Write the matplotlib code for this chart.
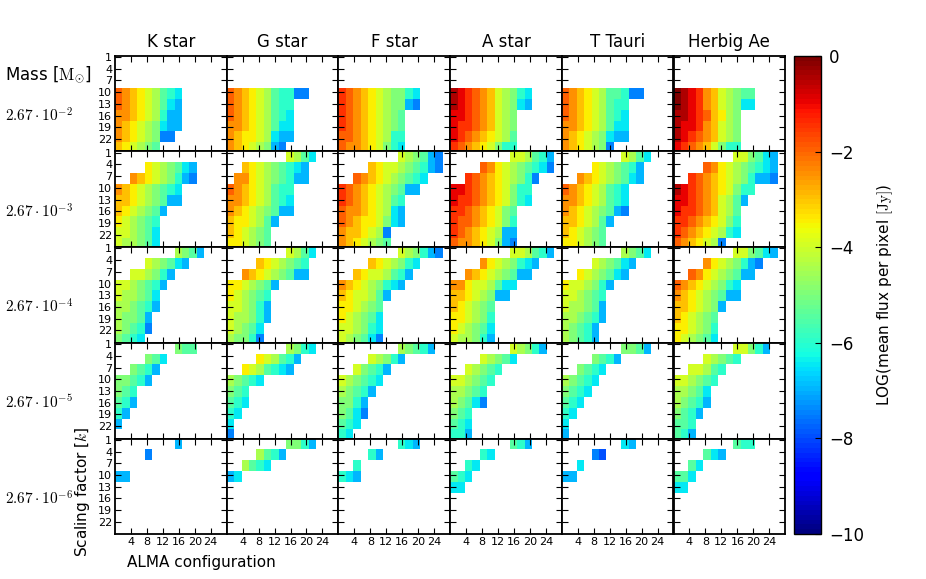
import numpy as np
import matplotlib
matplotlib.use("Agg")
import matplotlib.pyplot as plt

plt.rcParams["mathtext.fontset"] = "cm"

# ---------------- data ----------------
stars = ["K star", "G star", "F star", "A star", "T Tauri", "Herbig Ae"]
mass_labels = [r"$2.67\cdot10^{-2}$", r"$2.67\cdot10^{-3}$", r"$2.67\cdot10^{-4}$",
               r"$2.67\cdot10^{-5}$", r"$2.67\cdot10^{-6}$"]
k_ticks = [1, 4, 7, 10, 13, 16, 19, 22]
config_ticks = [4, 8, 12, 16, 20, 24]
cbar_ticks = [0, -2, -4, -6, -8, -10]

# cell codes: '.' = no data, otherwise value = -0.5 * index in CODES
CODES = "0123456789abcdefgh"

# mass 2.67e-2
K_m2 = ["", "", "", "456789bcd", "456789bde", "556789cee", "56789adee", "56789aff", "6789ab"]
G_m2 = ["", "", "", "456789bccff", "456789bcc", "456789bcd", "556789bdd", "567789dee", "56789aef"]
F_m2 = ["", "", "", "3456789aacd", "3456789aaef", "3456789ab", "3456789ab", "4456789cc", "455678acd"]
A_m2 = ["", "", "", "12345689acd", "12345689ade", "22345689a", "23345689a", "23456789b", "345678acc"]
T_m2 = ["", "", "", "456789bbcff", "456789bcc", "456789bcd", "556789bdd", "56789adee", "56789af"]
H_m2 = ["", "", "", "01235689abb", "01235689add", "11234679a", "12235689a", "12345689a", "234568acc"]
# mass 2.67e-3
K_m3 = ["", "....789abde", "..56789acef", "56789abcd", "66789abee", "6789abe", "789abc", "889abd", "899abd"]
G_m3 = ["........89bd", "..6789abcde", ".55789abcee", "456789bcc", "556789bcd", "56789abee", "67789be", "6789ab", "7789ab"]
F_m3 = ["........89abef", "....67889abcef", "..456789abcd", "3456789abee", "3456789bc", "4556789de", "456778ade", "566789f", "56789ab"]
A_m3 = ["........889bce", "....45789abcdf", "..3456789acf", "22345678acc", "23345678acd", "3345678ab", "3445678ac", "3456789ee", "455678aef"]
T_m3 = ["........89bd", "....789abce", "..56789abde", "456789bcd", "556789bcd", "56789abef", "66789be", "6789ab", "7789ab"]
H_m3 = ["........88abde", "....45789abcde", "..3456789aceef", "12345678acc", "22345689be", "23345689b", "3345678ac", "3456789cd", "456789f"]
# mass 2.67e-4
K_m4 = ["........9abe", "....89abde", "..889ace", "889abce", "899abd", "99abce", "9aabe", "9abcf", "abcd"]
G_m4 = ["........89bd", "....6789abc", "..56789abee", "7789abe", "789abc", "889ace", "899ace", "89abd", "9aacf"]
F_m4 = ["........89acef", "....6789acd", "..67889bce", "56789acde", "67889be", "7789ab", "789abd", "889acd", "89abdf"]
A_m4 = ["........889bce", "....5789acde", "..56789abee", "557889bdd", "66789aee", "6789ab", "7789ac", "789abd", "899ace"]
T_m4 = ["........9abd", "....89abde", "..789abde", "7889ace", "889abc", "899abe", "99abce", "9abce", "9abce"]
H_m4 = ["........88abde", "....5789acef", "..45789abee", "456789acd", "56789abee", "66789ae", "6789ab", "7789ac", "789abd"]
# mass 2.67e-5
K_m5 = ["........abb", "....abd", "..abce", "aabce", "abc", "bce", "ce", "e", ""]
G_m5 = ["........9acd", "....789bce", "..789bcde", "9abcd", "abc", "bcd", "cd", "d", "f"]
F_m5 = ["........9abce", "....89ace", "..8abce", "89abcd", "9abce", "aace", "abdf", "bcd", "cd"]
A_m5 = ["........89ace", "....89abd", "..89abc", "889abc", "99abc", "9abdf", "abc", "bcd", "cce"]
T_m5 = ["........aabe", "....abce", "..abcd", "9abcd", "abcd", "bcd", "cd", "d", "e"]
H_m5 = ["........88ace", "....89abc", "..889bc", "889abc", "99abd", "9abce", "abce", "bbc", "bce"]
# mass 2.67e-6
K_m6 = ["........e", "....f", "", "ee", "", "", "", "", ""]
G_m6 = ["........aace", "....9bce", "..9bcd", "ed", "", "", "", "", ""]
F_m6 = ["........cde", "....ce", "..c", "cde", "", "", "", "", ""]
A_m6 = ["........bce", "....cd", "..cd", "bcd", "dd", "", "", "", ""]
T_m6 = ["........de", "....fg", "..d", "ee", "", "", "", "", ""]
H_m6 = ["........bcc", "....bde", "..bd", "bbd", "dd", "", "", "", ""]

panel_rows = [
    [K_m2, G_m2, F_m2, A_m2, T_m2, H_m2],
    [K_m3, G_m3, F_m3, A_m3, T_m3, H_m3],
    [K_m4, G_m4, F_m4, A_m4, T_m4, H_m4],
    [K_m5, G_m5, F_m5, A_m5, T_m5, H_m5],
    [K_m6, G_m6, F_m6, A_m6, T_m6, H_m6],
]

NROW, NCOL = 9, 15


def decode(rows):
    arr = np.full((NROW, NCOL), np.nan)
    for i, row in enumerate(rows):
        for j, c in enumerate(row):
            if c != ".":
                arr[i, j] = -0.5 * CODES.index(c)
    return np.ma.masked_invalid(arr)


# ---------------- layout ----------------
W, H = 926, 579
fig = plt.figure(figsize=(W / 100, H / 100), dpi=100)

left0, top0 = 115.0, 55.7
pw, ph = 111.7, 95.7

x_edges = np.linspace(0, 28, NCOL + 1)
y_edges = 0.66 + 2.77 * np.arange(NROW + 1)

cmap = plt.get_cmap("jet", 100)
cmap.set_bad("white")

mesh = None
for r in range(5):
    for c in range(6):
        l = (left0 + c * pw) / W
        b = 1 - (top0 + (r + 1) * ph) / H
        ax = fig.add_axes([l, b, pw / W, ph / H])
        data = decode(panel_rows[r][c])
        mesh = ax.pcolormesh(x_edges, y_edges, data, cmap=cmap, vmin=-10, vmax=0)
        ax.set_xlim(0, 28)
        ax.set_ylim(25.15, 0.66)
        ax.set_xticks(config_ticks)
        ax.set_yticks(k_ticks)
        ax.tick_params(direction="in", top=True, right=True, length=4, width=0.8,
                       labelsize=8, pad=2)
        if c == 0:
            ax.set_yticklabels([str(v) for v in k_ticks])
        else:
            ax.set_yticklabels([])
        if r == 4:
            ax.set_xticklabels([str(v) for v in config_ticks])
        else:
            ax.set_xticklabels([])
        for s in ax.spines.values():
            s.set_linewidth(1.3)
        if r == 0:
            ax.set_title(stars[c], fontsize=12, pad=6)

# left labels
fig.text(5 / W, 1 - 75 / H, r"Mass [$\mathrm{M}_{\odot}$]", fontsize=12, ha="left", va="center")
for r in range(5):
    yc = top0 + (r + 0.5) * ph + 12
    fig.text(5 / W, 1 - yc / H, mass_labels[r], fontsize=11, ha="left", va="center")

fig.text(83 / W, 1 - 492 / H, r"Scaling factor [$k$]", fontsize=11, rotation=90,
         ha="center", va="center")
fig.text(201 / W, 1 - 562 / H, "ALMA configuration", fontsize=11, ha="center", va="center")

# colorbar
cax = fig.add_axes([794 / W, 1 - 534 / H, 27 / W, 478 / H])
cb = fig.colorbar(mesh, cax=cax, ticks=cbar_ticks)
cb.ax.tick_params(labelsize=12, direction="in", length=4, width=0.8, pad=6)
cb.outline.set_linewidth(1.0)
cb.set_label(r"LOG(mean flux per pixel $[\mathrm{Jy}]$)", fontsize=11, labelpad=8)

fig.savefig("out.png", dpi=100)
